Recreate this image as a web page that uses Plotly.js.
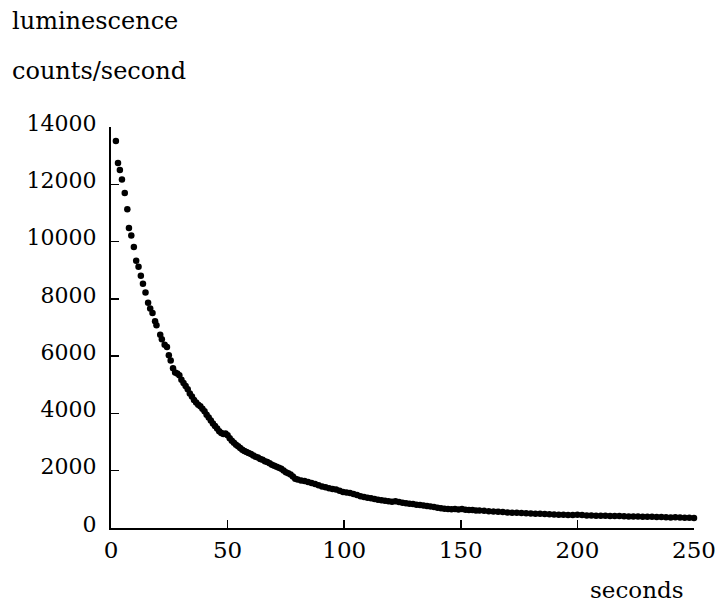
<!DOCTYPE html>
<html>
<head>
<meta charset="utf-8">
<script src="https://cdn.plot.ly/plotly-3.0.1.min.js"></script>
<style>
  html, body { margin: 0; padding: 0; background: #ffffff; }
  #chart { width: 724px; height: 606px; }
</style>
</head>
<body>
<div id="chart"></div>
<script>
// Luminescence decay: photon count rate against time after excitation.
const seconds = [
  2.1, 3.0, 3.8, 4.7, 5.9, 7.0, 7.7, 8.7, 9.8, 10.8, 11.8, 12.8, 13.7, 14.8, 15.9,
  16.8, 17.8, 18.9, 19.5, 21.1, 21.8, 23.0, 24.0, 24.8, 25.6, 26.6,
  27.5, 28.4, 29.3, 30.2, 31.1, 32.0, 32.9, 33.8, 34.7, 35.6, 36.5, 37.4, 38.3, 39.2,
  40.1, 41.0, 41.9, 42.8, 43.7, 44.6, 45.5, 46.4, 47.3, 48.2, 49.1, 50.0, 50.9, 51.8,
  52.7, 53.6, 54.5, 55.4, 56.3, 57.2, 58.1, 59.0, 60.0, 61.0, 62.0, 63.0, 64.0, 65.0,
  66.0, 67.0, 68.0, 69.0, 70.0, 71.0, 72.0, 73.0, 74.0, 75.0, 76.0, 77.0, 78.0, 79.0,
  80.0, 81.5, 83.0, 84.5, 86.0, 87.5, 89.0, 90.5, 92.0, 93.5, 95.0, 96.5, 98.0, 99.5,
  101.0, 102.5, 104.0, 105.5, 107.0, 108.5, 110.0, 111.5, 113.0, 114.5, 116.0, 117.5,
  119.0, 120.5, 122.0, 123.5, 125.0, 126.5, 128.0, 129.5, 131.0, 132.5, 134.0, 135.5,
  137.0, 138.5, 140.0, 141.5, 143.0, 144.5, 146.0, 147.5, 149.0, 150.5, 152.0, 153.5,
  155.0, 156.5, 158.0, 160.0, 162.0, 164.0, 166.0, 168.0, 170.0, 172.0, 174.0, 176.0,
  178.0, 180.0, 182.0, 184.0, 186.0, 188.0, 190.0, 192.0, 194.0, 196.0, 198.0, 200.0,
  202.0, 204.0, 206.0, 208.0, 210.0, 212.0, 214.0, 216.0, 218.0, 220.0, 222.0, 224.0,
  226.0, 228.0, 230.0, 232.0, 234.0, 236.0, 238.0, 240.0, 242.0, 244.0, 246.0, 248.0, 250.0
];
const countsPerSecond = [
  13510, 12740, 12500, 12170, 11700, 11130, 10470, 10210, 9810, 9330, 9120, 8810, 8530, 8220, 7860,
  7660, 7510, 7220, 7080, 6750, 6590, 6400, 6320, 6030, 5850, 5580,
  5430, 5390, 5330, 5180, 5060, 4960, 4840, 4700, 4590, 4470, 4380, 4300, 4250, 4160,
  4080, 3950, 3860, 3750, 3650, 3560, 3470, 3380, 3320, 3280, 3300, 3240, 3130, 3050,
  2980, 2910, 2850, 2790, 2730, 2690, 2650, 2620, 2580, 2530, 2490, 2460, 2410, 2380,
  2330, 2300, 2260, 2210, 2170, 2140, 2100, 2070, 2010, 1950, 1910, 1870, 1800, 1720,
  1690, 1660, 1640, 1610, 1570, 1540, 1490, 1450, 1420, 1390, 1360, 1340, 1300, 1260,
  1240, 1220, 1190, 1150, 1110, 1080, 1060, 1040, 1010, 985, 965, 950,
  935, 920, 930, 910, 880, 865, 850, 835, 815, 800, 785, 765,
  750, 735, 710, 690, 675, 660, 655, 665, 650, 660, 640, 630,
  625, 615, 610, 600, 585, 575, 565, 555, 545, 535, 530, 520,
  515, 505, 500, 495, 490, 480, 475, 465, 460, 455, 450, 460,
  450, 440, 435, 430, 430, 425, 420, 415, 415, 410, 405, 405,
  400, 395, 390, 390, 380, 385, 375, 370, 375, 365, 360, 355, 350
];
const xTicks = [0, 50, 100, 150, 200, 250];
const yTicks = [0, 2000, 4000, 6000, 8000, 10000, 12000, 14000];
const yLabel = ['luminescence', 'counts/second'];
const xLabel = 'seconds';

const W = 724, H = 606;
const M = { l: 111, r: 30, t: 127, b: 78 };
const plotW = W - M.l - M.r, plotH = H - M.t - M.b;
// helpers to place free text by page pixel position
const px = X => (X - M.l) / plotW;
const py = Y => (H - M.b - Y) / plotH;

const serif = 'DejaVu Serif';

const trace = {
  type: 'scatter',
  mode: 'markers',
  x: seconds,
  y: countsPerSecond,
  cliponaxis: false,
  marker: { color: '#000000', size: 6.5, line: { width: 0 } },
  hoverinfo: 'skip'
};

const axisBase = {
  showline: true, linecolor: '#000000', linewidth: 2,
  ticks: 'inside', ticklen: 8, tickwidth: 1.5, tickcolor: '#000000',
  showgrid: false, zeroline: false, fixedrange: true
};

const layout = {
  width: W, height: H,
  margin: { l: M.l, r: M.r, t: M.t, b: M.b, pad: 0 },
  paper_bgcolor: '#ffffff', plot_bgcolor: '#ffffff',
  showlegend: false,
  font: { family: serif, color: '#000000' },
  xaxis: Object.assign({}, axisBase, {
    range: [0, 250], tickvals: xTicks, ticktext: xTicks.map(String),
    tickfont: { family: serif, size: 23, color: '#000000' }
  }),
  yaxis: Object.assign({}, axisBase, {
    range: [0, 14000], tickvals: yTicks, ticktext: yTicks.map(String),
    tickfont: { family: serif, size: 22, color: '#000000' },
    ticklabelstandoff: 8, ticklabelshift: -4
  }),
  annotations: [
    { text: yLabel[0], xref: 'paper', yref: 'paper', x: px(10), y: py(21),
      xanchor: 'left', yanchor: 'middle', showarrow: false,
      font: { family: serif, size: 24, color: '#000000' } },
    { text: yLabel[1], xref: 'paper', yref: 'paper', x: px(10), y: py(71),
      xanchor: 'left', yanchor: 'middle', showarrow: false,
      font: { family: serif, size: 24, color: '#000000' } },
    { text: xLabel, xref: 'paper', yref: 'paper', x: px(588), y: py(605),
      xanchor: 'left', yanchor: 'bottom', showarrow: false,
      font: { family: serif, size: 23, color: '#000000' } }
  ]
};

Plotly.newPlot('chart', [trace], layout, { staticPlot: true, displayModeBar: false });
</script>
</body>
</html>
